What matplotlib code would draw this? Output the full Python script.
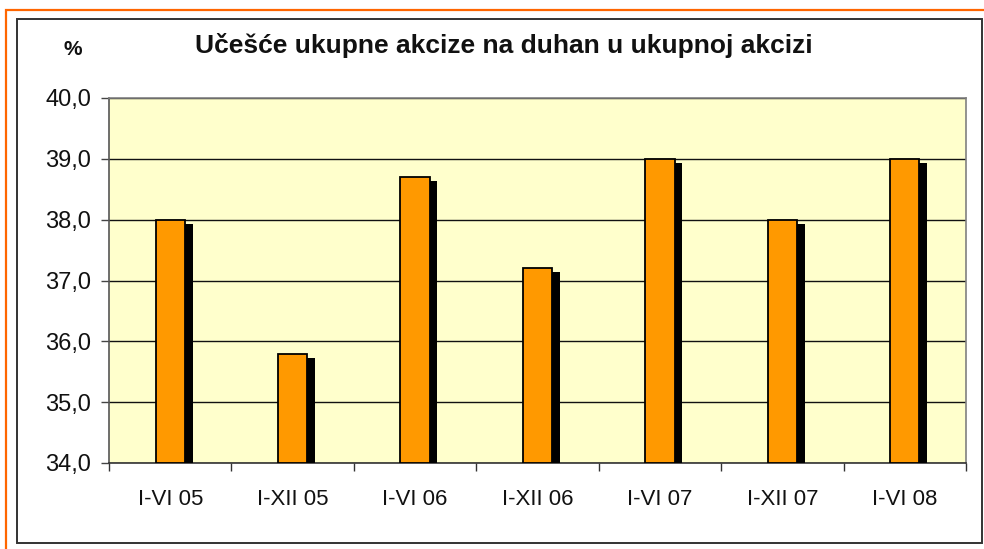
import matplotlib

matplotlib.use("Agg")

import matplotlib.patheffects as pe
import matplotlib.pyplot as plt
import numpy as np
from matplotlib.patches import Rectangle

plt.rcParams["font.family"] = ["Liberation Sans", "DejaVu Sans"]

TITLE = "Učešće ukupne akcize na duhan u ukupnoj akcizi"
UNIT = "%"
PERIODS = ["I-VI 05", "I-XII 05", "I-VI 06", "I-XII 06", "I-VI 07", "I-XII 07", "I-VI 08"]
SHARES = [38.0, 35.8, 38.7, 37.2, 39.0, 38.0, 39.0]
Y_TICKS = [34.0, 35.0, 36.0, 37.0, 38.0, 39.0, 40.0]

BAR_COLOR = "#FF9900"
PLOT_BG = "#FFFFCC"
FRAME_ORANGE = "#FF6600"

fig = plt.figure(figsize=(9.84, 5.49), dpi=100)
fig.patch.set_facecolor("white")

# okvir slike: narancasta linija gore i lijevo, tamni okvir grafikona
fig.add_artist(Rectangle((6 / 984, -0.05), 1.2, 1 - 10 / 549 + 0.05,
                         transform=fig.transFigure, fill=False,
                         edgecolor=FRAME_ORANGE, linewidth=1.6))
fig.add_artist(Rectangle((17 / 984, 6 / 549), (982 - 17) / 984, (543 - 19) / 549,
                         transform=fig.transFigure, fill=False,
                         edgecolor="#333333", linewidth=1.4))

ax = fig.add_axes([109 / 984, 86 / 549, (966 - 109) / 984, (463 - 98) / 549])
ax.set_facecolor(PLOT_BG)

x = np.arange(len(PERIODS))
bars = ax.bar(x, np.array(SHARES) - Y_TICKS[0], bottom=Y_TICKS[0], width=0.24,
              color=BAR_COLOR, edgecolor="black", linewidth=1.3, zorder=3)
for bar in bars:
    bar.set_path_effects([
        pe.SimplePatchShadow(offset=(5.5, -3), shadow_rgbFace="black", alpha=1.0),
        pe.Normal(),
    ])

ax.set_xlim(-0.5, len(PERIODS) - 0.5)
ax.set_ylim(Y_TICKS[0], Y_TICKS[-1])
ax.set_yticks(Y_TICKS)
ax.set_yticklabels([f"{v:.1f}".replace(".", ",") for v in Y_TICKS])
ax.set_xticks(x)
ax.set_xticklabels(PERIODS)
ax.set_xticks(np.arange(-0.5, len(PERIODS)), minor=True)

ax.yaxis.grid(True, color="#111111", linewidth=1.0, zorder=1)
ax.set_axisbelow(True)

ax.tick_params(axis="y", length=6, width=1, color="#444444", pad=7, labelsize=17, labelcolor="#111111")
ax.tick_params(axis="x", which="major", length=0, pad=19, labelsize=16, labelcolor="#111111")
ax.tick_params(axis="x", which="minor", length=6, width=1, color="#333333")

for name, spine in ax.spines.items():
    spine.set_color("#808080")
    spine.set_linewidth(1.2)
ax.spines["bottom"].set_color("#333333")
ax.spines["left"].set_color("#555555")

fig.text(0.512, 0.918, TITLE, ha="center", va="center", fontsize=19, fontweight="bold", color="#111111")
fig.text(0.074, 0.909, UNIT, ha="center", va="center", fontsize=15, fontweight="bold", color="#111111")

fig.savefig("out.png", dpi=100)
plt.close(fig)
